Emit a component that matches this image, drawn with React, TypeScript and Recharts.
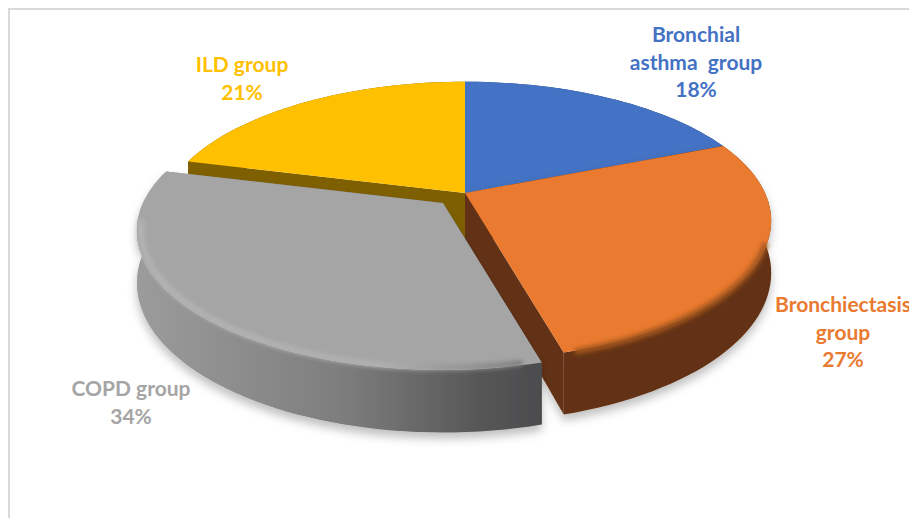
import { PieChart, Pie, Cell } from 'recharts';

const categories = ['Bronchial asthma group', 'Bronchiectasis group', 'COPD group', 'ILD group'];
const labelLines = [['Bronchial', 'asthma  group'], ['Bronchiectasis', 'group'], ['COPD group'], ['ILD group']];
const values = [18, 27, 34, 21];

const COLORS = ['#4472C4', '#E97A30', '#A5A5A5', '#FFC000'];
const WALLS = ['#264478', '#633212', 'url(#grayWall)', '#7F6000'];
const FONT = 'Lato, Carlito, sans-serif';

// label anchor (center x, first baseline y)
const LABEL_POS = [
  { x: 696, y: 42 },
  { x: 843, y: 312 },
  { x: 131, y: 396 },
  { x: 242, y: 72 },
];

const TILT = 0.445;
const PERSPECTIVE = 0.2;
const DEPTH = 0.167;
const GRAY = 2;
const EXPLODE = { 2: { dx: -22, dy: 10 } } as Record<number, { dx: number; dy: number }>;

const rad = (d: number) => (d * Math.PI) / 180;

// polar angle of the pie -> point on the tilted disc
function project(angle: number, cx: number, cy: number, R: number, drop = 0, inset = 0) {
  const clock = ((90 - angle) % 360 + 360) % 360;
  // small correction, the original's 3D view skews the right half a little
  const u = clock / 284.4;
  const warp = u < 1 ? 8 * Math.sqrt(u) * (1 - u) : 0;
  const t = rad(clock + warp);
  const p = 1 / (1 + PERSPECTIVE * Math.cos(t));
  return {
    x: cx + (R - inset) * Math.sin(t) * p,
    y: cy - (R - inset) * TILT * Math.cos(t) * p + drop * R * p,
  };
}

function arcPoints(a0: number, a1: number, cx: number, cy: number, R: number, drop = 0, inset = 0) {
  const n = Math.max(2, Math.ceil(Math.abs(a1 - a0) / 2));
  const pts = [];
  for (let i = 0; i <= n; i++) pts.push(project(a0 + ((a1 - a0) * i) / n, cx, cy, R, drop, inset));
  return pts;
}

const toPath = (pts: { x: number; y: number }[], close = true) =>
  pts.map((p, i) => `${i ? 'L' : 'M'}${p.x.toFixed(1)},${p.y.toFixed(1)}`).join(' ') + (close ? ' Z' : '');

function Slice3D(props: any) {
  const { cx, cy, outerRadius: R, startAngle, endAngle, index } = props;
  const off = EXPLODE[index] || { dx: 0, dy: 0 };
  const x0 = cx + off.dx;
  const y0 = cy + off.dy;
  const top = arcPoints(startAngle, endAngle, x0, y0, R);
  const bottom = arcPoints(startAngle, endAngle, x0, y0, R, DEPTH);
  const centerTop = { x: x0, y: y0 };
  const centerBottom = { x: x0, y: y0 + DEPTH * R };
  const band = [...top, ...bottom.slice().reverse()];
  const side0 = [centerTop, top[0], bottom[0], centerBottom];
  const side1 = [centerTop, top[top.length - 1], bottom[bottom.length - 1], centerBottom];
  const wall = WALLS[index];
  const isGray = index === GRAY;
  const isOrange = index === 1;
  return (
    <g>
      <g filter={isGray || isOrange ? 'url(#softShadow)' : undefined}>
        <path d={toPath(side0)} fill={wall} />
        <path d={toPath(side1)} fill={wall} />
        <path d={toPath(band)} fill={wall} />
      </g>
      <path d={toPath([centerTop, ...top])} fill={props.fill} />
      {isGray && (
        <path
          d={toPath(arcPoints(startAngle - 3, endAngle + 22, x0, y0, R, 0, 4), false)}
          fill="none"
          stroke="url(#grayRim)"
          strokeWidth={6}
          filter="url(#rimBlur)"
        />
      )}
      {isOrange && (
        <path
          d={toPath(arcPoints(startAngle - 42, endAngle + 2, x0, y0, R, 0.006, 2), false)}
          fill="none"
          stroke="#A4561F"
          strokeWidth={6}
          filter="url(#rimBlur)"
        />
      )}
    </g>
  );
}

const BackSlices = (props: any) => (props.index === GRAY ? <g /> : <Slice3D {...props} />);
const FrontSlice = (props: any) => (props.index === GRAY ? <Slice3D {...props} /> : <g />);

function SliceLabel(props: any) {
  const { index } = props;
  const pos = LABEL_POS[index];
  const lines = [...labelLines[index], `${values[index]}%`];
  return (
    <text
      x={pos.x}
      y={pos.y}
      textAnchor="middle"
      fill={COLORS[index]}
      fontFamily={FONT}
      fontWeight={700}
      fontSize={21}
      style={{ whiteSpace: 'pre' }}
    >
      {lines.map((line, i) => (
        <tspan key={i} x={pos.x} dy={i ? 27.5 : 0}>
          {line}
        </tspan>
      ))}
    </text>
  );
}

const data = categories.map((name, i) => ({ name, value: values[i] }));

export default function App() {
  return (
    <div style={{ position: 'fixed', left: 0, top: 0, width: 909, height: 518, overflow: 'hidden', background: '#fff' }}>
      <div style={{ position: 'absolute', left: 8, top: 8, width: 1000, height: 600, borderLeft: '2px solid #D9D9D9', borderTop: '2px solid #D9D9D9' }} />
      <div style={{ position: 'absolute', left: 0, top: 0 }}>
        <PieChart width={909} height={518} margin={{ top: 0, right: 0, bottom: 0, left: 0 }}>
          <defs>
            <linearGradient id="grayWall" gradientUnits="userSpaceOnUse" x1="134" y1="0" x2="545" y2="0">
              <stop offset="0" stopColor="#9C9C9C" />
              <stop offset="0.5" stopColor="#7E7E7E" />
              <stop offset="0.85" stopColor="#565656" />
              <stop offset="1" stopColor="#4A4C4E" />
            </linearGradient>
            <linearGradient id="grayRim" gradientUnits="userSpaceOnUse" x1="134" y1="0" x2="545" y2="0">
              <stop offset="0" stopColor="#B4B4B4" />
              <stop offset="0.6" stopColor="#B0B0B0" />
              <stop offset="1" stopColor="#777" />
            </linearGradient>
            <filter id="rimBlur" x="-10%" y="-10%" width="120%" height="120%">
              <feGaussianBlur stdDeviation="2" />
            </filter>
            <filter id="softShadow" x="-10%" y="-10%" width="120%" height="130%">
              <feDropShadow dx="0" dy="6" stdDeviation="5" floodColor="#000" floodOpacity="0.25" />
            </filter>
          </defs>
          <Pie
            data={data}
            dataKey="value"
            cx={465}
            cy={193}
            outerRadius={300}
            startAngle={90}
            endAngle={-270}
            stroke="none"
            isAnimationActive={false}
            shape={BackSlices}
          >
            {data.map((_, i) => (
              <Cell key={i} fill={COLORS[i]} />
            ))}
          </Pie>
          <Pie
            data={data}
            dataKey="value"
            cx={465}
            cy={193}
            outerRadius={300}
            startAngle={90}
            endAngle={-270}
            stroke="none"
            isAnimationActive={false}
            shape={FrontSlice}
            label={SliceLabel}
            labelLine={false}
          >
            {data.map((_, i) => (
              <Cell key={i} fill={COLORS[i]} />
            ))}
          </Pie>
        </PieChart>
      </div>
    </div>
  );
}
